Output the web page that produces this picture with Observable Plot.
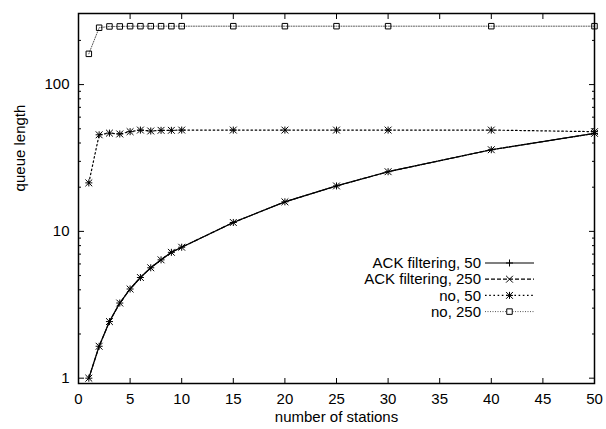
<!DOCTYPE html>
<html><head><meta charset="utf-8">
<script src="https://cdn.jsdelivr.net/npm/d3@7"></script>
<script src="https://cdn.jsdelivr.net/npm/@observablehq/plot@0.6"></script>
<style>
body{margin:0;background:#fff}
svg{font-family:"Liberation Sans",Arial,Helvetica,sans-serif}
</style>
</head><body><div id="chart"></div>
<script>
const stations = [1,2,3,4,5,6,7,8,9,10,15,20,25,30,40,50];
const ackFiltering50  = [1.0,1.65,2.43,3.25,4.05,4.85,5.65,6.4,7.2,7.8,11.5,15.9,20.4,25.5,36,46.5];
const ackFiltering250 = [1.0,1.65,2.43,3.25,4.05,4.85,5.65,6.4,7.2,7.8,11.5,15.9,20.4,25.5,36,46.5];
const no50  = [21.4,45.5,46.7,46.1,47.8,49,48.3,48.8,48.8,49,49,49,49,49,49,47.8];
const no250 = [162,244,249,249,250,250,250,250,250,250,250,250,250,250,250,250];
const xTicks = [0,5,10,15,20,25,30,35,40,45,50];
const yMajor = [1,10,100];
const yMinor = [2,3,4,5,6,7,8,9,20,30,40,50,60,70,80,90,200];
const seriesNames = ["ACK filtering, 50","ACK filtering, 250","no, 50","no, 250"];
const xLabel = "number of stations";
const yLabel = "queue length";

const rows = (vals) => stations.map((s,i) => ({x:s, y:vals[i]}));
const styles = [
  {data: rows(ackFiltering50),  dash: null,    stroke:"#000", sw:1.2, syms:[["plus",2.4]]},
  {data: rows(ackFiltering250), dash: "4,2",   stroke:"#000", sw:1.2, syms:[["times",3.2]]},
  {data: rows(no50),            dash: "1.6,2.6", stroke:"#000", sw:1.2, syms:[["plus",2.4],["times",3.2]]},
  {data: rows(no250),           dash: "1,1.5", stroke:"#555", sw:1,   syms:[["square",3.1]]}
];

const marks = [];
styles.forEach(s => {
  marks.push(Plot.line(s.data, {x:"x", y:"y", stroke:s.stroke, strokeWidth:s.sw, strokeDasharray:s.dash}));
});
styles.forEach(s => {
  s.syms.forEach(([sym,r]) => marks.push(Plot.dot(s.data, {x:"x", y:"y", symbol:()=>sym, r, stroke:"#000", strokeWidth:1, fill:"none"})));
});

const plot = Plot.plot({
  width: 606, height: 429,
  marginLeft: 78, marginRight: 12, marginTop: 13, marginBottom: 46,
  style: {fontSize: "15px", fontFamily: '"Liberation Sans", Arial, sans-serif', background:"#fff"},
  x: {domain:[0,50]},
  y: {type:"log", domain:[0.92,305]},
  symbol: {type:"identity"},
  marks: [
    Plot.axisX({ticks: xTicks, anchor:"bottom", tickSize:-5, text:null, label:null}),
    Plot.axisX({ticks: xTicks, anchor:"top", tickSize:-5, text:null, label:null}),
    Plot.axisX({ticks: xTicks, anchor:"bottom", tickSize:0, tickPadding:10, label:null, tickFormat: d=>String(d), fill:"#000"}),
    Plot.axisY({ticks: yMajor, anchor:"left", tickSize:-6, text:null, label:null}),
    Plot.axisY({ticks: yMajor, anchor:"right", tickSize:-6, text:null, label:null}),
    Plot.axisY({ticks: yMinor, anchor:"left", tickSize:-3, text:null, label:null}),
    Plot.axisY({ticks: yMinor, anchor:"right", tickSize:-3, text:null, label:null}),
    Plot.axisY({ticks: yMajor, anchor:"left", tickSize:0, tickPadding:9, label:null, tickFormat: d=>String(d), fill:"#000"}),
    Plot.text([xLabel], {frameAnchor:"bottom", dy:38, fontSize:15, fill:"#000"}),
    ...marks,
    Plot.frame({stroke:"#000", strokeWidth:1.5})
  ]
});
document.getElementById("chart").appendChild(plot);

const svg = d3.select(plot);
// y axis title
svg.append("text").attr("transform", "translate(20,148) rotate(-90)")
  .attr("text-anchor", "middle").attr("dy", "0.35em").attr("font-size", 15).attr("fill", "#000")
  .text(yLabel);

// legend (inside plot area, gnuplot style)
const lg = svg.append("g").attr("font-size", 15).attr("fill", "#000");
const symMap = {plus: d3.symbolPlus, times: d3.symbolTimes, square: d3.symbolSquare};
styles.forEach((s, i) => {
  const yy = 263 + i*16.2;
  lg.append("text").attr("x", 481).attr("y", yy).attr("dy", "0.35em")
    .attr("text-anchor", "end").text(seriesNames[i]);
  lg.append("line").attr("x1", 485).attr("x2", 534).attr("y1", yy).attr("y2", yy)
    .attr("stroke", s.stroke).attr("stroke-width", s.sw).attr("stroke-dasharray", s.dash);
  s.syms.forEach(([sym, r]) => {
    lg.append("path").attr("transform", `translate(509.5,${yy})`)
      .attr("d", d3.symbol(symMap[sym], r*r*Math.PI)())
      .attr("fill", sym==="square" ? "#fff" : "none").attr("stroke", "#000").attr("stroke-width", 1);
  });
});
</script>
</body></html>
